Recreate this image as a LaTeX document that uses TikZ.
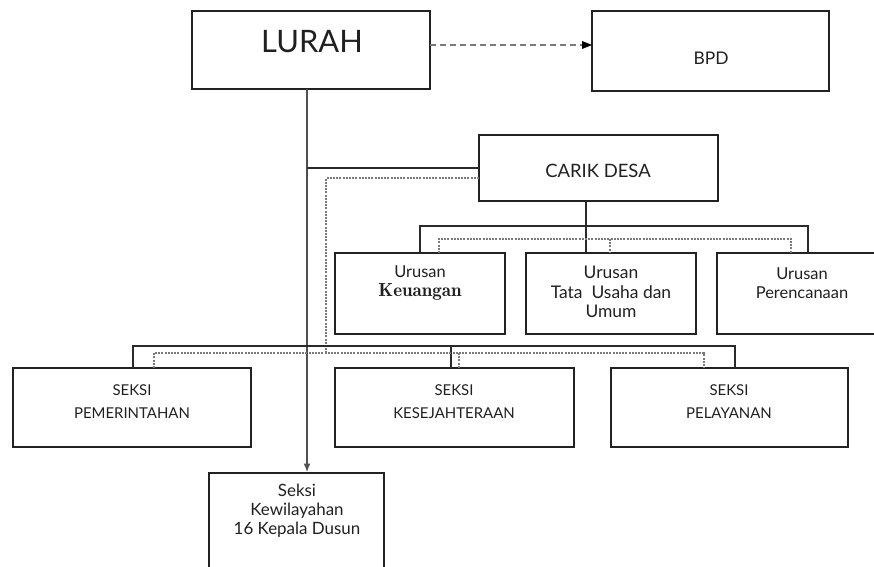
\documentclass[tikz,border=0pt]{standalone}
\usepackage{fontspec}
\setmainfont{Lato}
\usetikzlibrary{arrows.meta}
\definecolor{boxc}{HTML}{222222}
\definecolor{txtc}{HTML}{202020}
\definecolor{linec}{HTML}{2A2A2A}
\definecolor{trunkc}{HTML}{505050}
\definecolor{dashc}{HTML}{7A7A7A}
\begin{document}
\begin{tikzpicture}[x=1bp,y=-1bp,
  box/.style={draw=boxc, line width=1.5bp, anchor=north west, inner sep=0pt, outer sep=0pt},
  txt/.style={inner sep=0pt, text=txtc, align=center},
  conn/.style={draw=linec, line width=1.4bp},
  trunk/.style={draw=trunkc, line width=2bp},
  dconn/.style={draw=dashc, line width=1.1bp, dash pattern=on 2bp off 1.2bp},
  darrow/.style={draw=dashc, line width=2.2bp, dash pattern=on 6bp off 4bp},
  urf/.style={font=\fontsize{16.5}{19.5}\selectfont},
  skf/.style={font=\fontsize{15}{23}\selectfont}]
\useasboundingbox (0,0) rectangle (874,567);
\clip (0,0) rectangle (874,567);

% boxes
\node[box, minimum width=238bp, minimum height=78bp] (lurah) at (192,11) {};
\node[box, minimum width=237bp, minimum height=80bp] (bpd) at (592,11) {};
\node[box, minimum width=239bp, minimum height=66bp] (carik) at (479,135) {};
\node[box, minimum width=170bp, minimum height=81bp] (keu) at (335,253) {};
\node[box, minimum width=170bp, minimum height=81bp] (tata) at (526,253) {};
\node[box, minimum width=170bp, minimum height=81bp] (per) at (717,253) {};
\node[box, minimum width=238bp, minimum height=79bp] (pem) at (13,368) {};
\node[box, minimum width=239bp, minimum height=79bp] (kes) at (335,368) {};
\node[box, minimum width=237bp, minimum height=79bp] (pel) at (611,368) {};
\node[box, minimum width=175bp, minimum height=110bp] (kew) at (209,473) {};

% texts
\node[txt, font=\fontsize{31}{33}\selectfont] (tlurah) at (312,42) {LURAH};
\node[txt, font=\fontsize{17.5}{20}\selectfont] (tbpd) at (711,58) {BPD};
\node[txt, font=\fontsize{18.5}{20}\selectfont] (tcarik) at (598,171) {CARIK DESA};
\node[txt, urf] (tkeu) at (420,283) {Urusan\\{\fontfamily{lmr}\bfseries\fontsize{19}{19.5}\selectfont Keuangan}};
\node[txt, urf, font=\fontsize{17.5}{19.5}\selectfont] (ttata) at (611,292) {Urusan\\Tata~~Usaha dan\\Umum};
\node[txt, urf] (tper) at (802,283) {Urusan\\Perencanaan};
\node[txt, skf] (tpem) at (132,401.5) {SEKSI\\PEMERINTAHAN};
\node[txt, skf] (tkes) at (454,401.5) {SEKSI\\KESEJAHTERAAN};
\node[txt, skf] (tpel) at (729,401.5) {SEKSI\\PELAYANAN};
\node[txt, font=\fontsize{17}{19}\selectfont] (tkew) at (297,511) {Seksi\\Kewilayahan\\16 Kepala Dusun};

% junction coordinates
\coordinate (xL) at (307,0);
\coordinate (xC) at (586,0);
\coordinate (ar) at (0,45);
\coordinate (dc) at (326,178);
\coordinate (ubL) at (420,226);
\coordinate (ubR) at (808,226);
\coordinate (udL) at (439,239);
\coordinate (udM) at (610,239);
\coordinate (udR) at (791,239);
\coordinate (sbL) at (133,346);
\coordinate (sbM) at (451,346);
\coordinate (sbR) at (735,346);
\coordinate (sdL) at (154,353);
\coordinate (sdM) at (459,353);
\coordinate (sdR) at (704,353);

% LURAH -> BPD
\draw[darrow] (ar -| lurah.east) -- ([xshift=-7bp]ar -| bpd.west);
\fill[black] (ar -| bpd.west) -- ++(-10,-4) -- ++(0,8) -- cycle;

% LURAH trunk
\draw[trunk, -{Latex[length=9bp,width=7bp]}, shorten >=0.5bp] (lurah.south -| xL) -- (kew.north -| xL);
\draw[conn] (carik.west -| xL) -- (carik.west);

% dashed from CARIK to seksi bus
\draw[dconn] (dc -| carik.west) -- (dc) -- (dc |- sdL);

% CARIK -> urusan
\draw[conn] (carik.south -| xC) -- (tata.north -| xC);
\draw[conn] (ubL |- keu.north) -- (ubL) -- (ubR) -- (ubR |- per.north);
\draw[dconn] (udL |- keu.north) -- (udL) -- (udR) -- (udR |- per.north);
\draw[dconn] (udM) -- (udM |- tata.north);

% seksi buses
\draw[conn] (sbL |- pem.north) -- (sbL) -- (sbR) -- (sbR |- pel.north);
\draw[conn] (sbM) -- (sbM |- kes.north);
\draw[dconn] (sdL |- pem.north) -- (sdL) -- (sdR) -- (sdR |- pel.north);
\draw[dconn] (sdM) -- (sdM |- kes.north);
\end{tikzpicture}
\end{document}
